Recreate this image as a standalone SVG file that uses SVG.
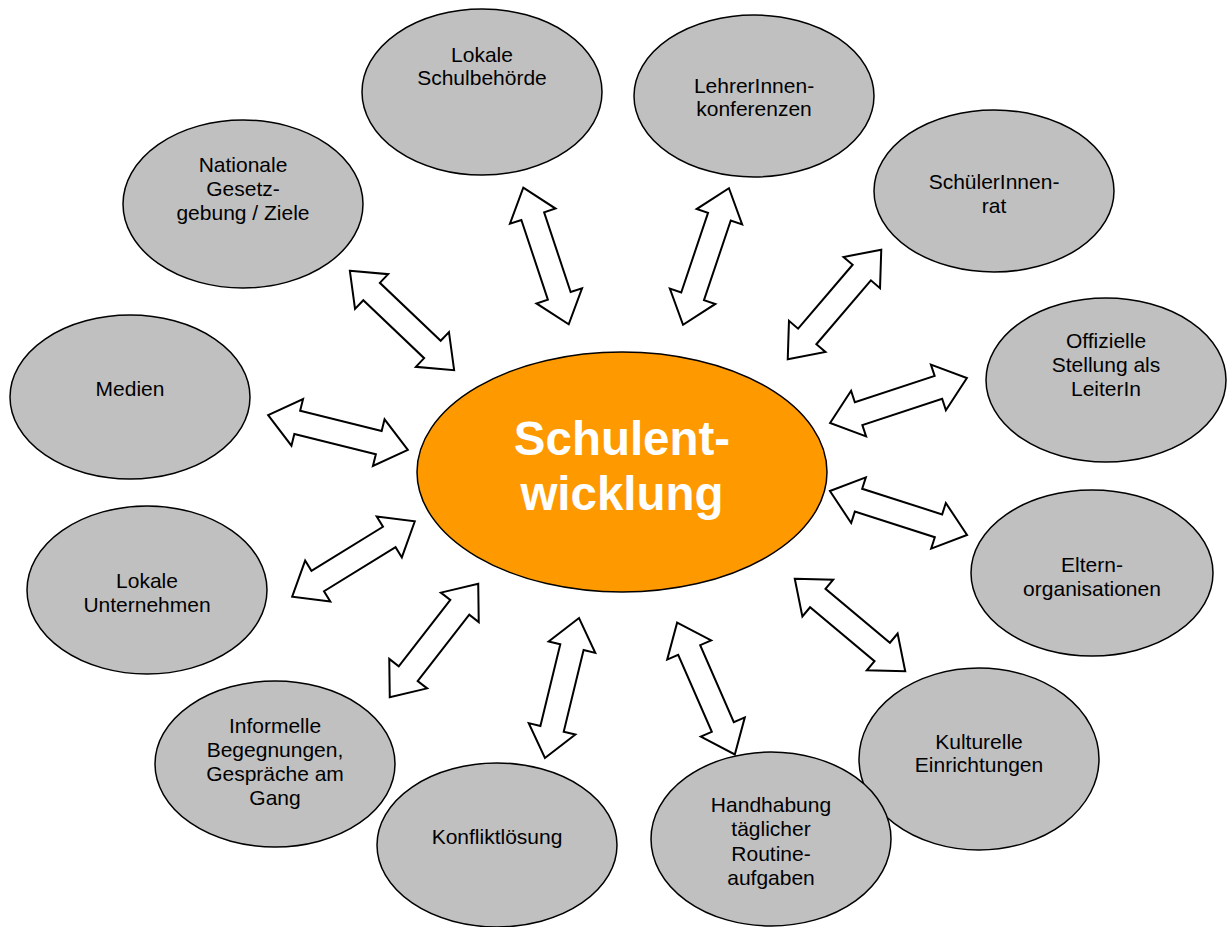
<svg xmlns="http://www.w3.org/2000/svg" xmlns:xlink="http://www.w3.org/1999/xlink" width="1228" height="927" viewBox="0 0 1228 927">
<style>
.n{fill:#C0C0C0;stroke:#000;stroke-width:1.5}
.c{fill:#FF9900;stroke:#000;stroke-width:1.5}
.t{font-family:"Liberation Sans",Arial,sans-serif;font-size:21px;fill:#000;text-anchor:middle}
.ct{font-family:"Liberation Sans",Arial,sans-serif;font-size:47.5px;font-weight:bold;fill:#fff;text-anchor:middle}
.a{fill:#fff;stroke:#000;stroke-width:2;stroke-linejoin:miter}
</style>
<defs>
<polygon id="dbl" class="a" points="-72,0 -42,-24 -42,-12 42,-12 42,-24 72,0 42,24 42,12 -42,12 -42,24"/>
</defs>
<rect width="1228" height="927" fill="#fff"/>
<g id="connectors">
<use xlink:href="#dbl" transform="translate(402,320.5) rotate(43.6)"/>
<use xlink:href="#dbl" transform="translate(546,256) rotate(71.6)"/>
<use xlink:href="#dbl" transform="translate(706,256.5) rotate(108.6)"/>
<use xlink:href="#dbl" transform="translate(834.5,304.5) rotate(130.5)"/>
<use xlink:href="#dbl" transform="translate(898.5,400.5) rotate(161.8)"/>
<use xlink:href="#dbl" transform="translate(898.5,513) rotate(17.8)"/>
<use xlink:href="#dbl" transform="translate(850,625) rotate(39.9)"/>
<use xlink:href="#dbl" transform="translate(706,688.5) rotate(66.4)"/>
<use xlink:href="#dbl" transform="translate(562,688) rotate(103.7)"/>
<use xlink:href="#dbl" transform="translate(434,640.5) rotate(127.9)"/>
<use xlink:href="#dbl" transform="translate(353.5,559) rotate(148.4)"/>
<use xlink:href="#dbl" transform="translate(338,432.5) rotate(14)"/>
</g>
<g id="center">
<ellipse class="c" cx="622" cy="472" rx="205" ry="120"/>
<text class="ct" x="622" y="455">Schulent-</text>
<text class="ct" x="622" y="510">wicklung</text>
</g>
<g id="n1"><ellipse class="n" cx="482" cy="92" rx="120" ry="83"/>
<text class="t" x="482" y="62">Lokale</text><text class="t" x="482" y="85">Schulbehörde</text></g>
<g id="n2"><ellipse class="n" cx="754" cy="96" rx="120" ry="81"/>
<text class="t" x="754" y="93">LehrerInnen-</text><text class="t" x="754" y="116">konferenzen</text></g>
<g id="n3"><ellipse class="n" cx="994" cy="191" rx="120" ry="81"/>
<text class="t" x="994" y="189">SchülerInnen-</text><text class="t" x="994" y="213">rat</text></g>
<g id="n4"><ellipse class="n" cx="1106" cy="380" rx="120" ry="82"/>
<text class="t" x="1106" y="348">Offizielle</text><text class="t" x="1106" y="372">Stellung als</text><text class="t" x="1106" y="396">LeiterIn</text></g>
<g id="n5"><ellipse class="n" cx="1092" cy="573" rx="121" ry="83"/>
<text class="t" x="1092" y="572">Eltern-</text><text class="t" x="1092" y="596">organisationen</text></g>
<g id="n6"><ellipse class="n" cx="979" cy="759" rx="120" ry="91"/>
<text class="t" x="979" y="749">Kulturelle</text><text class="t" x="979" y="772">Einrichtungen</text></g>
<g id="n7"><ellipse class="n" cx="771" cy="839" rx="120" ry="87"/>
<text class="t" x="771" y="812">Handhabung</text><text class="t" x="771" y="836">täglicher</text><text class="t" x="771" y="861">Routine-</text><text class="t" x="771" y="885">aufgaben</text></g>
<g id="n8"><ellipse class="n" cx="497" cy="845" rx="120" ry="82"/>
<text class="t" x="497" y="844">Konfliktlösung</text></g>
<g id="n9"><ellipse class="n" cx="275" cy="764" rx="120" ry="83"/>
<text class="t" x="275" y="733">Informelle</text><text class="t" x="275" y="757">Begegnungen,</text><text class="t" x="275" y="781">Gespräche am</text><text class="t" x="275" y="805">Gang</text></g>
<g id="n10"><ellipse class="n" cx="147" cy="590" rx="120" ry="84"/>
<text class="t" x="147" y="588">Lokale</text><text class="t" x="147" y="612">Unternehmen</text></g>
<g id="n11"><ellipse class="n" cx="130" cy="397" rx="120" ry="82"/>
<text class="t" x="130" y="396">Medien</text></g>
<g id="n12"><ellipse class="n" cx="243" cy="204" rx="120" ry="84"/>
<text class="t" x="243" y="172">Nationale</text><text class="t" x="243" y="196">Gesetz-</text><text class="t" x="243" y="220">gebung / Ziele</text></g>
</svg>
